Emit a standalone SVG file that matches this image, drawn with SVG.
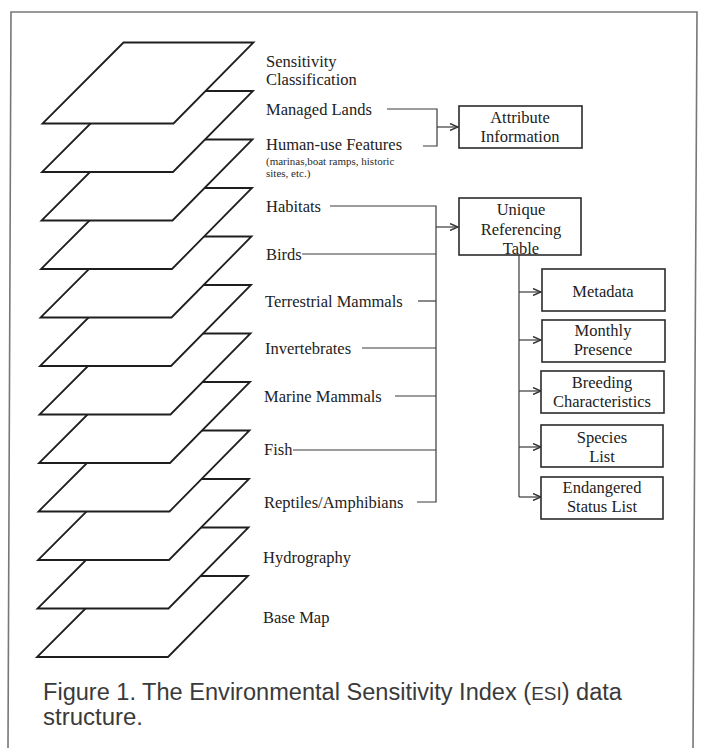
<svg xmlns="http://www.w3.org/2000/svg" width="702" height="748" viewBox="0 0 702 748">
<defs>
<marker id="arr" markerWidth="10" markerHeight="8" refX="9" refY="4" orient="auto" markerUnits="userSpaceOnUse">
<path d="M1,0.5 L9,4 L1,7.5" fill="none" stroke="#333" stroke-width="1.4"/>
</marker>
</defs>
<style>
.layer{fill:#fff;stroke:#1e1e1e;stroke-width:1.8;stroke-linejoin:miter}
.lbl{font-family:"Liberation Serif",serif;font-size:16.5px;fill:#222}
.small{font-family:"Liberation Serif",serif;font-size:11px;fill:#2b2b2b}
.box{fill:#fff;stroke:#2b2b2b;stroke-width:1.6}
.bt{font-family:"Liberation Serif",serif;font-size:16.5px;fill:#222;text-anchor:middle}
.con{fill:none;stroke:#3a3a3a;stroke-width:1.2}
.cap{font-family:"Liberation Sans","Open Sans",sans-serif;font-size:23px;fill:#3a3a3a}
</style>
<rect width="702" height="748" fill="#fff"/>
<path d="M8,748 L11,12 L697,12 L693,748" fill="none" stroke="#777" stroke-width="1.6"/>

<g id="layers">
<g id="layer-basemap"><polygon class="layer" points="118,576 248,576 168,657 37,657"/></g>
<g id="layer-hydrography"><polygon class="layer" points="118.5,527.5 248.5,527.5 168.5,608.5 37.5,608.5"/></g>
<g id="layer-reptiles"><polygon class="layer" points="119,479 249,479 169,560 38,560"/></g>
<g id="layer-fish"><polygon class="layer" points="119.5,430.5 249.5,430.5 169.5,511.5 38.5,511.5"/></g>
<g id="layer-marine"><polygon class="layer" points="120,382 250,382 170,463 39,463"/></g>
<g id="layer-invertebrates"><polygon class="layer" points="120.5,333.5 250.5,333.5 170.5,414.5 39.5,414.5"/></g>
<g id="layer-terrestrial"><polygon class="layer" points="121,285 251,285 171,366 40,366"/></g>
<g id="layer-birds"><polygon class="layer" points="121.5,236.5 251.5,236.5 171.5,317.5 40.5,317.5"/></g>
<g id="layer-habitats"><polygon class="layer" points="122,188 252,188 172,269 41,269"/></g>
<g id="layer-humanuse"><polygon class="layer" points="122.5,139.5 252.5,139.5 172.5,220.5 41.5,220.5"/></g>
<g id="layer-managed"><polygon class="layer" points="123,91 253,91 173,172 42,172"/></g>
<g id="layer-sensitivity"><polygon class="layer" points="123.5,42.5 253.5,42.5 173.5,123.5 42.5,123.5"/></g>
</g>

<g id="labels">
<text class="lbl" x="266" y="67">Sensitivity</text>
<text class="lbl" x="266" y="85">Classification</text>
<text class="lbl" x="266" y="115">Managed Lands</text>
<text class="lbl" x="266" y="150">Human-use Features</text>
<text class="small" x="266" y="165">(marinas,boat ramps, historic</text>
<text class="small" x="266" y="177">sites, etc.)</text>
<text class="lbl" x="266" y="212">Habitats</text>
<text class="lbl" x="266" y="260">Birds</text>
<text class="lbl" x="265" y="307">Terrestrial Mammals</text>
<text class="lbl" x="265" y="354">Invertebrates</text>
<text class="lbl" x="264" y="402">Marine Mammals</text>
<text class="lbl" x="264" y="455">Fish</text>
<text class="lbl" x="264" y="508">Reptiles/Amphibians</text>
<text class="lbl" x="263" y="563">Hydrography</text>
<text class="lbl" x="263" y="623">Base Map</text>
</g>

<g id="connectors">
<path class="con" d="M387,109 H437 V146 H423"/>
<path class="con" d="M437,127 H458" marker-end="url(#arr)"/>
<path class="con" d="M330,206 H436 V502 H417"/>
<path class="con" d="M302,254 H436"/>
<path class="con" d="M418,301 H436"/>
<path class="con" d="M362,348 H436"/>
<path class="con" d="M395,396 H436"/>
<path class="con" d="M293,450 H436"/>
<path class="con" d="M436,227 H458" marker-end="url(#arr)"/>
<path class="con" d="M519,255 V497"/>
<path class="con" d="M519,292 H541" marker-end="url(#arr)"/>
<path class="con" d="M519,340 H541" marker-end="url(#arr)"/>
<path class="con" d="M519,391 H541" marker-end="url(#arr)"/>
<path class="con" d="M519,447 H541" marker-end="url(#arr)"/>
<path class="con" d="M519,497 H541" marker-end="url(#arr)"/>
</g>

<g id="attribute">
<rect class="box" x="459" y="106" width="123" height="42"/>
<text class="bt" x="520" y="123">Attribute</text>
<text class="bt" x="520" y="142">Information</text>
</g>
<g id="unique">
<rect class="box" x="459" y="198" width="122" height="57"/>
<text class="bt" x="521" y="215">Unique</text>
<text class="bt" x="521" y="235">Referencing</text>
<text class="bt" x="521" y="254">Table</text>
</g>
<g id="metadata">
<rect class="box" x="542" y="269" width="123" height="42"/>
<text class="bt" x="603" y="297">Metadata</text>
</g>
<g id="monthly">
<rect class="box" x="542" y="320" width="123" height="42"/>
<text class="bt" x="603" y="336">Monthly</text>
<text class="bt" x="603" y="355">Presence</text>
</g>
<g id="breeding">
<rect class="box" x="541" y="371" width="123" height="42"/>
<text class="bt" x="602" y="388">Breeding</text>
<text class="bt" x="602" y="407">Characteristics</text>
</g>
<g id="species">
<rect class="box" x="541" y="425" width="122" height="42"/>
<text class="bt" x="602" y="443">Species</text>
<text class="bt" x="602" y="462">List</text>
</g>
<g id="endangered">
<rect class="box" x="541" y="477" width="122" height="42"/>
<text class="bt" x="602" y="493">Endangered</text>
<text class="bt" x="602" y="512">Status List</text>
</g>

<g id="caption">
<text class="cap" x="43" y="700" textLength="579" lengthAdjust="spacingAndGlyphs">Figure 1. The Environmental Sensitivity Index (<tspan font-size="18.5">ESI</tspan>) data</text>
<text class="cap" x="43" y="725" textLength="100" lengthAdjust="spacingAndGlyphs">structure.</text>
</g>
</svg>
